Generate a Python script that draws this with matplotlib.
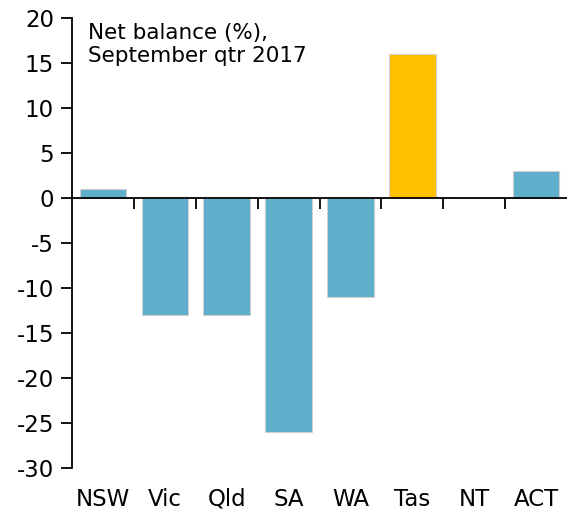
import numpy as np
import matplotlib.pyplot as plt

states = ['NSW', 'Vic', 'Qld', 'SA', 'WA', 'Tas', 'NT', 'ACT']
balance = [1, -13, -13, -26, -11, 16, 0, 3]
colours = ['#5eafcc'] * 5 + ['#ffc000'] + ['#5eafcc'] * 2
yticks = list(range(-30, 25, 5))

plt.rcParams['font.family'] = ['DejaVu Sans']
fig = plt.figure(figsize=(5.67, 5.16), dpi=100)
ax = fig.add_axes([72 / 567, 48 / 516, 495 / 567, 450 / 516])

x = np.arange(len(states))
ax.bar(x, balance, width=0.75, color=colours, edgecolor='#d0d0d0', linewidth=0.8, zorder=2)

ax.set_xlim(-0.5, len(states) - 0.5)
ax.set_ylim(-30, 20)
ax.set_yticks(yticks)
ax.set_yticklabels([str(t) for t in yticks], fontsize=16.5)
ax.tick_params(axis='y', direction='out', length=8, width=1.3, pad=5, colors='black')

# x axis sits on zero, ticks between categories
ax.spines['bottom'].set_position(('data', 0))
ax.spines['bottom'].set_linewidth(1.3)
ax.spines['left'].set_linewidth(1.3)
ax.spines['top'].set_visible(False)
ax.spines['right'].set_visible(False)
ax.set_xticks(np.arange(0.5, len(states) - 0.5, 1))
ax.set_xticklabels([])
ax.tick_params(axis='x', direction='out', length=8, width=1.3)

for i, s in enumerate(states):
    ax.text(i, -34.2, s, ha='center', va='baseline', fontsize=16.5)

ax.text(0.032, 0.99, 'Net balance (%),\nSeptember qtr 2017', transform=ax.transAxes,
        ha='left', va='top', fontsize=15.5, linespacing=1.2)

fig.savefig('out.png', dpi=100)
